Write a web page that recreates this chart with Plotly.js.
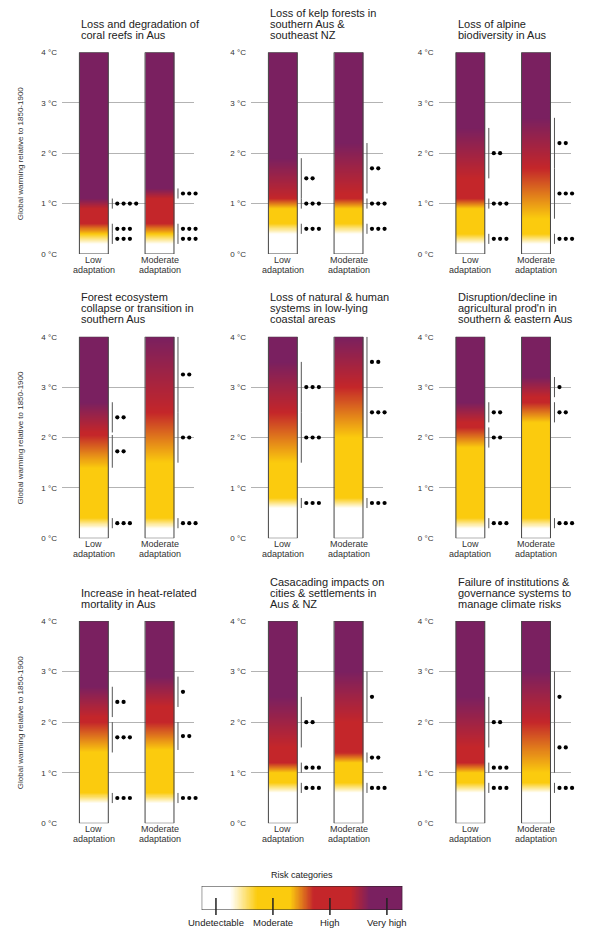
<!DOCTYPE html>
<html><head><meta charset="utf-8">
<script src="https://cdn.plot.ly/plotly-3.0.1.min.js"></script>
<style>html,body{margin:0;padding:0;background:#fff;}#chart{width:593px;height:929px;}</style>
</head><body><div id="chart"></div>
<script>
// ---------------- DATA ----------------
const panelTitles = [
  ["Loss and degradation of", "coral reefs in Aus"],
  ["Loss of kelp forests in", "southern Aus &", "southeast NZ"],
  ["Loss of alpine", "biodiversity in Aus"],
  ["Forest ecosystem", "collapse or transition in", "southern Aus"],
  ["Loss of natural & human", "systems in low-lying", "coastal areas"],
  ["Disruption/decline in", "agricultural prod'n in", "southern & eastern Aus"],
  ["Increase in heat-related", "mortality in Aus"],
  ["Casacading impacts on", "cities & settlements in", "Aus & NZ"],
  ["Failure of institutions &", "governance systems to", "manage climate risks"]
];
const scenarioLabels = [["Low", "adaptation"], ["Moderate", "adaptation"]];
const tempTicks = [0, 1, 2, 3, 4];
const tempTickLabels = ["0 °C", "1 °C", "2 °C", "3 °C", "4 °C"];
const yAxisTitle = "Global warming relative to 1850-1900";

// transitions (°C): [undetectable→moderate], [moderate→high], [high→very high]
const lowTransitions = [
  [[0.2, 0.4], [0.4, 0.6], [0.9, 1.1]],
  [[0.4, 0.6], [0.9, 1.1], [1.1, 1.9]],
  [[0.2, 0.4], [0.9, 1.1], [1.5, 2.5]],
  [[0.2, 0.4], [1.4, 2.05], [2.1, 2.7]],
  [[0.6, 0.8], [1.5, 2.5], [2.5, 3.5]],
  [[0.2, 0.4], [1.8, 2.2], [2.3, 2.7]],
  [[0.4, 0.6], [1.4, 2.0], [2.1, 2.7]],
  [[0.6, 0.8], [1.0, 1.2], [1.5, 2.5]],
  [[0.6, 0.8], [1.0, 1.2], [1.5, 2.5]]
];
const lowConfidence = [
  [3, 3, 4], [3, 3, 2], [3, 3, 2], [3, 2, 2], [3, 3, 3],
  [3, 2, 2], [3, 3, 2], [3, 3, 2], [3, 3, 2]
];
const moderateTransitions = [
  [[0.2, 0.4], [0.4, 0.6], [1.1, 1.3]],
  [[0.4, 0.6], [0.9, 1.1], [1.2, 2.2]],
  [[0.2, 0.4], [0.7, 1.7], [1.7, 2.7]],
  [[0.2, 0.4], [1.5, 2.5], [2.5, 4.0]],
  [[0.6, 0.8], [2.0, 3.0], [3.0, 4.0]],
  [[0.2, 0.4], [2.3, 2.7], [2.8, 3.2]],
  [[0.4, 0.6], [1.45, 2.0], [2.3, 2.9]],
  [[0.6, 0.8], [1.2, 1.4], [2.0, 3.0]],
  [[0.6, 0.8], [1.0, 2.0], [2.0, 3.0]]
];
const moderateConfidence = [
  [3, 3, 3], [3, 3, 2], [3, 3, 2], [3, 2, 2], [3, 3, 2],
  [3, 2, 1], [3, 2, 1], [3, 2, 1], [3, 2, 1]
];
const riskCategories = ["Undetectable", "Moderate", "High", "Very high"];
const legendTransitions = [[0.25, 0.72], [1.3, 1.71], [2.36, 2.7]];
const legendTitle = "Risk categories";

// ---------------- STYLE / LAYOUT ----------------
const W = 593, H = 929;
const FONT = '"Liberation Sans", Arial, Helvetica, sans-serif';
const colors = ['#ffffff', '#fbcb0e', '#c4262a', '#7a2060'];
const colorscale = [[0, colors[0]], [1/3, colors[1]], [2/3, colors[2]], [1, colors[3]]];
const colLeft = [62, 251, 438.5], colW = 132;
const rowTop = [52.3, 336.7, 621], rowBot = [254, 538.3, 823.3];
const XR = [-0.97, 3.05];
const barPos = [0, 2];
const halfW = 0.44;
const pxU = colW / (XR[1] - XR[0]);
const extraPx = 16;
const px = v => v / W, py = v => 1 - v / H;

function riskLevel(t, trans) {
  let v = 0;
  for (let i = 0; i < trans.length; i++) {
    const a = trans[i][0], b = trans[i][1];
    if (t >= b) v = i + 1;
    else if (t > a) { v = i + (t - a) / (b - a); break; }
    else break;
  }
  return v;
}

const traces = [];
const markTraces = [];
const shapes = [];
const annotations = [];
const layout = {
  width: W, height: H, margin: {l: 0, r: 0, t: 0, b: 0},
  paper_bgcolor: '#fff', plot_bgcolor: 'rgba(0,0,0,0)',
  showlegend: false, font: {family: FONT, color: '#222'}
};

const step = 0.01;
const yEdges = [];
for (let k = 0; k <= 400; k++) yEdges.push(+(k * step).toFixed(3));

for (let p = 0; p < 9; p++) {
  const r = Math.floor(p / 3), c = p % 3, n = p + 1, m = p + 11;
  const xa = 'x' + n, ya = 'y' + n, xm = 'x' + m, ym = 'y' + m;
  layout['xaxis' + n] = {
    domain: [px(colLeft[c]), px(colLeft[c] + colW)], range: XR, anchor: ya,
    showgrid: false, zeroline: false, showticklabels: false, showline: false, ticks: '', fixedrange: true
  };
  layout['yaxis' + n] = {
    domain: [py(rowBot[r]), py(rowTop[r])], range: [0, 4], anchor: xa,
    tickvals: tempTicks, ticktext: tempTickLabels, ticks: '', ticklabelstandoff: 4,
    tickfont: {size: 8, color: '#333', family: FONT},
    showgrid: true, gridcolor: '#b3b3b3', gridwidth: 1, zeroline: false, showline: false, fixedrange: true
  };
  // same scale, wider area for confidence marks
  layout['xaxis' + m] = {
    domain: [px(colLeft[c]), px(colLeft[c] + colW + extraPx)], range: [XR[0], XR[1] + extraPx / pxU],
    anchor: ym, visible: false, fixedrange: true
  };
  layout['yaxis' + m] = {
    domain: [py(rowBot[r]), py(rowTop[r])], range: [0, 4], anchor: xm, visible: false, fixedrange: true
  };
  const trans = [lowTransitions[p], moderateTransitions[p]];
  const conf = [lowConfidence[p], moderateConfidence[p]];
  const z = [];
  for (let k = 0; k < 400; k++) {
    const t = (k + 0.5) * step;
    z.push([riskLevel(t, trans[0]), null, riskLevel(t, trans[1])]);
  }
  traces.push({
    type: 'heatmap', xaxis: xa, yaxis: ya,
    x: [barPos[0] - halfW, barPos[0] + halfW, barPos[1] - halfW, barPos[1] + halfW],
    y: yEdges, z: z, zmin: 0, zmax: 3, colorscale: colorscale, showscale: false,
    hoverinfo: 'skip', zsmooth: false
  });
  const lx = [], ly = [], dx = [], dy = [];
  for (let s = 0; s < 2; s++) {
    const lineX = barPos[s] + halfW + 4 / pxU;
    trans[s].forEach((ab, i) => {
      lx.push(lineX, lineX, null); ly.push(ab[0], ab[1], null);
      const mid = (ab[0] + ab[1]) / 2;
      for (let d = 0; d < conf[s][i]; d++) {
        dx.push(lineX + (5 + d * 6.3) / pxU); dy.push(mid);
      }
    });
    shapes.push({
      type: 'rect', xref: xa, yref: ya, x0: barPos[s] - halfW, x1: barPos[s] + halfW, y0: 0, y1: 4,
      line: {color: '#444', width: 1}, fillcolor: 'rgba(0,0,0,0)', layer: 'above'
    });
    // x labels
    const cx = colLeft[c] + (barPos[s] - XR[0]) * pxU;
    annotations.push({text: scenarioLabels[s][0], x: px(cx), y: py(rowBot[r] + 5.5), xref: 'paper', yref: 'paper',
      xanchor: 'center', yanchor: 'middle', showarrow: false, font: {size: 9, color: '#333', family: FONT}});
    annotations.push({text: scenarioLabels[s][1], x: px(cx), y: py(rowBot[r] + 16), xref: 'paper', yref: 'paper',
      xanchor: 'center', yanchor: 'middle', showarrow: false, font: {size: 9, color: '#333', family: FONT}});
  }
  markTraces.push({type: 'scatter', mode: 'lines', xaxis: xm, yaxis: ym, x: lx, y: ly,
    line: {color: '#555', width: 1}, hoverinfo: 'skip', cliponaxis: false});
  markTraces.push({type: 'scatter', mode: 'markers', xaxis: xm, yaxis: ym, x: dx, y: dy,
    marker: {color: '#000', size: 4.2}, hoverinfo: 'skip', cliponaxis: false});
  // titles
  const titleX = colLeft[c] + (barPos[0] - halfW - XR[0]) * pxU;
  const lines = panelTitles[p];
  lines.forEach((txt, i) => {
    const yy = rowTop[r] - 17.5 - (lines.length - 1 - i) * 11;
    annotations.push({text: txt, x: px(titleX), y: py(yy), xref: 'paper', yref: 'paper',
      xanchor: 'left', yanchor: 'middle', showarrow: false, font: {size: 11, color: '#222', family: FONT}});
  });
  if (c === 0) {
    annotations.push({text: yAxisTitle, textangle: -90, x: px(20), y: py((rowTop[r] + rowBot[r]) / 2),
      xref: 'paper', yref: 'paper', xanchor: 'center', yanchor: 'middle', showarrow: false,
      font: {size: 8, color: '#333', family: FONT}});
  }
}

// ---------------- LEGEND ----------------
const LR = [-0.25, 3.27];
layout.xaxis10 = {domain: [px(201.7), px(402.3)], range: LR, anchor: 'y10', showgrid: false, zeroline: false,
  showticklabels: false, ticks: '', fixedrange: true};
layout.yaxis10 = {domain: [py(910), py(886)], range: [0, 1], anchor: 'x10', showgrid: false, zeroline: false,
  showticklabels: false, ticks: '', fixedrange: true};
const lxEdges = [], lz = [];
const nL = Math.round((LR[1] - LR[0]) / step);
for (let k = 0; k <= nL; k++) lxEdges.push(LR[0] + k * (LR[1] - LR[0]) / nL);
const lrow = [];
for (let k = 0; k < nL; k++) lrow.push(riskLevel((lxEdges[k] + lxEdges[k + 1]) / 2, legendTransitions));
lz.push(lrow);
traces.push({type: 'heatmap', xaxis: 'x10', yaxis: 'y10', x: lxEdges, y: [0, 1], z: lz, zmin: 0, zmax: 3,
  colorscale: colorscale, showscale: false, hoverinfo: 'skip', zsmooth: false});
shapes.push({type: 'rect', xref: 'x10', yref: 'y10', x0: LR[0], x1: LR[1], y0: 0, y1: 1,
  line: {color: '#222', width: 1}, fillcolor: 'rgba(0,0,0,0)', layer: 'above'});
riskCategories.forEach((cat, i) => {
  shapes.push({type: 'line', xref: 'x10', yref: 'paper', x0: i, x1: i, y0: py(898), y1: py(915),
    line: {color: '#222', width: 1.5}, layer: 'above'});
  annotations.push({text: cat, x: i, xref: 'x10', y: py(922), yref: 'paper', xanchor: 'center', yanchor: 'middle',
    showarrow: false, font: {size: 9.5, color: '#222', family: FONT}});
});
annotations.push({text: legendTitle, x: px(301.7), y: py(875), xref: 'paper', yref: 'paper', xanchor: 'center',
  yanchor: 'middle', showarrow: false, font: {size: 9, color: '#222', family: FONT}});

layout.shapes = shapes;
layout.annotations = annotations;
Plotly.newPlot('chart', traces.concat(markTraces), layout, {displayModeBar: false, staticPlot: true});
</script>
</body></html>
